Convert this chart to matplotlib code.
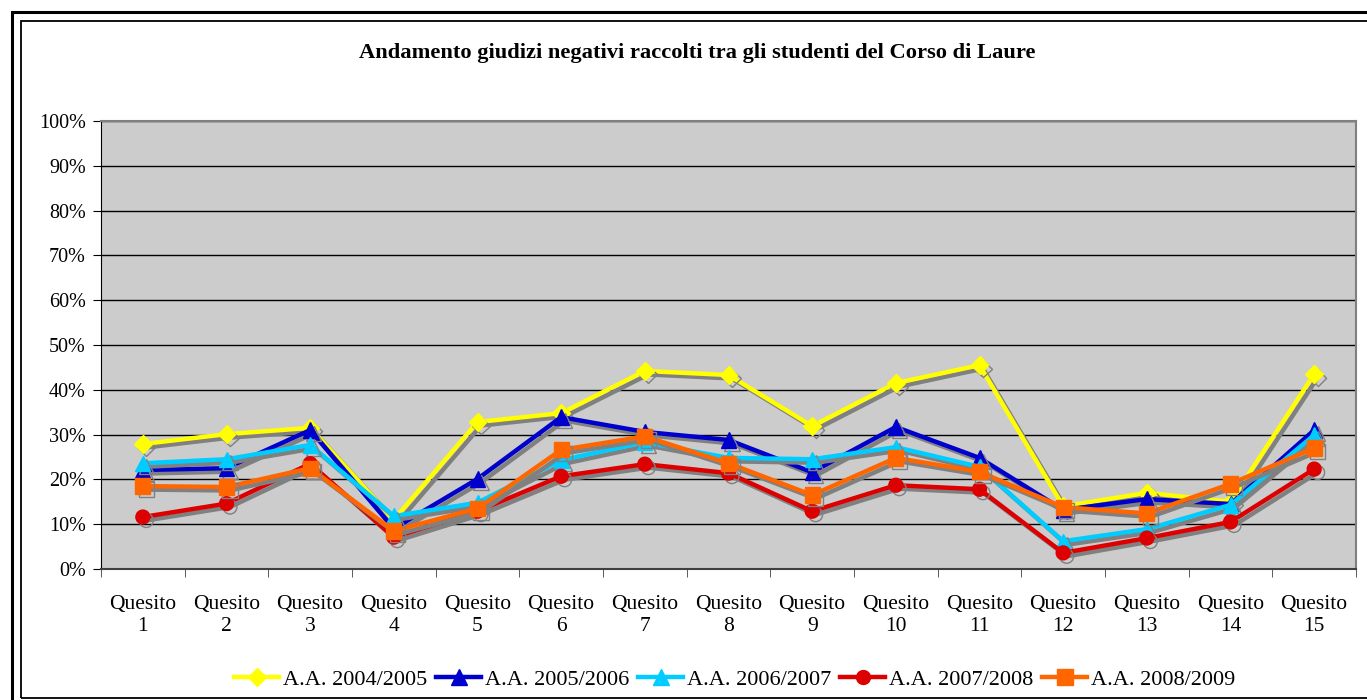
import matplotlib
matplotlib.use("Agg")
import matplotlib.pyplot as plt
import matplotlib.patheffects as pe
from matplotlib.patches import Rectangle
import numpy as np

# dati (percentuali)
quesiti = ["Quesito\n%d" % i for i in range(1, 16)]
anni = ["A.A. 2004/2005", "A.A. 2005/2006", "A.A. 2006/2007",
        "A.A. 2007/2008", "A.A. 2008/2009"]
aa_2004 = [27.9, 30.1, 31.5, 11.0, 32.8, 34.8, 44.2, 43.3, 31.9, 41.5, 45.5, 14.0, 17.0, 15.0, 43.5]
aa_2005 = [22.1, 22.5, 31.0, 9.0, 20.1, 33.9, 30.6, 28.8, 21.6, 31.7, 24.8, 13.2, 15.6, 14.5, 31.0]
aa_2006 = [23.6, 24.5, 27.7, 11.8, 14.8, 24.3, 28.3, 24.8, 24.5, 27.2, 22.8, 6.2, 8.9, 14.3, 29.9]
aa_2007 = [11.6, 14.6, 23.5, 7.1, 12.9, 20.7, 23.4, 21.4, 12.9, 18.7, 17.8, 3.6, 6.9, 10.5, 22.3]
aa_2008 = [18.5, 18.3, 22.5, 8.5, 13.5, 26.6, 29.6, 23.6, 16.5, 24.8, 21.7, 13.8, 12.4, 19.0, 27.0]

serie = [aa_2004, aa_2005, aa_2006, aa_2007, aa_2008]
colori = ["#FFFF00", "#0000CC", "#00CCFF", "#DD0000", "#FF6600"]
marcatori = ["D", "^", "^", "o", "s"]
dim_marc = [9, 11, 11, 10, 11]

plt.rcParams['font.family'] = ['Liberation Serif', 'DejaVu Serif']

fig = plt.figure(figsize=(13.67, 7.0), dpi=100)
W, H = 1367.0, 700.0
ax = fig.add_axes([101 / W, 1 - 569 / H, 1255 / W, 448 / H])
ax.set_facecolor("#CCCCCC")

x = np.arange(len(quesiti))
ombra = [pe.SimpleLineShadow(offset=(2.5, -2.5), shadow_color="#808080", alpha=1.0),
         pe.Normal()]
for valori, col, mk, ms, nome in zip(serie, colori, marcatori, dim_marc, anni):
    ax.plot(x, np.array(valori) / 100.0, color=col, lw=3.2, marker=mk,
            markersize=ms, markeredgecolor=col, label=nome,
            path_effects=ombra, zorder=3)

ax.set_xlim(-0.5, len(quesiti) - 0.5)
ax.set_ylim(0, 1)
ax.set_yticks(np.linspace(0, 1, 11))
ax.set_yticklabels(["%d%%" % v for v in range(0, 101, 10)], fontsize=14.5)
ax.yaxis.grid(True, color="black", lw=1.0)
ax.set_axisbelow(True)

ax.set_xticks(x)
ax.set_xticklabels(quesiti, fontsize=15.5, linespacing=1.2)
ax.set_xticks(np.arange(-0.5, len(quesiti)), minor=True)
ax.tick_params(axis="x", which="major", length=0, pad=19)
ax.tick_params(axis="x", which="minor", length=6, direction="out", color="#404040")
ax.tick_params(axis="y", length=6, direction="out", pad=5, color="black")

for lato in ["top", "right"]:
    ax.spines[lato].set_color("#808080")
    ax.spines[lato].set_linewidth(1.5)
ax.spines["left"].set_color("black")
ax.spines["bottom"].set_color("#404040")
ax.spines["bottom"].set_linewidth(1.5)

fig.text(697 / W, 1 - 53 / H, "Andamento giudizi negativi raccolti tra gli studenti del Corso di Laure",
         ha="center", va="center", fontsize=16.2, fontweight="bold")

leg = ax.legend(loc="center", bbox_to_anchor=(735 / W, 1 - 680 / H),
                bbox_transform=fig.transFigure, ncol=5, frameon=False,
                fontsize=16, handlelength=2.0, handletextpad=0.2,
                columnspacing=0.4, borderaxespad=0)
for linea in leg.get_lines():
    linea.set_path_effects([])

# cornice doppia
fig.add_artist(Rectangle((12 / W, -0.1), 1.2, 1 - 12 / H + 0.1, transform=fig.transFigure,
                         fill=False, lw=2.2, edgecolor="black"))
fig.add_artist(Rectangle((21 / W, 1 - 698 / H), 1.2, (698 - 21) / H, transform=fig.transFigure,
                         fill=False, lw=1.3, edgecolor="black"))

fig.savefig("out.png", dpi=100)
